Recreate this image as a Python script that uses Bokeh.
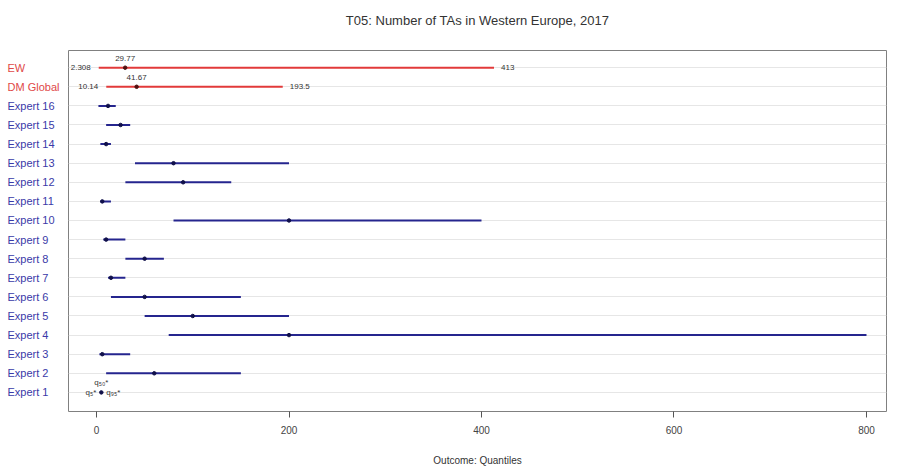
from bokeh.plotting import figure
from bokeh.layouts import row, column
from bokeh.models import ColumnDataSource, Label, FixedTicker, Range1d
from bokeh.core.properties import value
from bokeh.embed import file_html
from bokeh.resources import INLINE

# ---- data ----
experts = ["Expert %d" % i for i in range(1, 17)]
exp_q5 = [4, 10, 3, 75, 50, 15, 12, 30, 7, 80, 4, 30, 40, 4, 10, 2]
exp_q50 = [5, 60, 6, 200, 100, 50, 15, 50, 10, 200, 6, 90, 80, 10, 25, 12]
exp_q95 = [6, 150, 35, 800, 200, 150, 30, 70, 30, 400, 15, 140, 200, 15, 35, 20]

dm_names = ["DM Global", "EW"]
dm_q5 = [10.14, 2.308]
dm_q50 = [41.67, 29.77]
dm_q95 = [193.5, 413]
dm_q5_lbl = ["10.14", "2.308"]
dm_q50_lbl = ["41.67", "29.77"]
dm_q95_lbl = ["193.5", "413"]

x_ticks = [0, 200, 400, 600, 800]
title_text = "T05: Number of TAs in Western Europe, 2017"
x_label = "Outcome: Quantiles"

FONT = "Liberation Sans"
BLUE_TXT = "#3a3aa8"
RED_TXT = "#e04848"
BLUE_LN = "#25258e"
RED_LN = "#e23a3a"

exp_y = list(range(1, len(experts) + 1))
dm_y = [len(experts) + 1 + i for i in range(len(dm_names))]

y_range = Range1d(0, 18.9)

# ---- title panel ----
top = figure(width=897, height=48, output_backend="svg", toolbar_location=None,
             x_range=Range1d(0, 897), y_range=Range1d(0, 48),
             min_border_left=0, min_border_right=0, min_border_top=0, min_border_bottom=0)
top.axis.visible = False
top.grid.visible = False
top.outline_line_color = None
top.text(x=[477], y=[28], text=[title_text], text_font=value(FONT), text_font_size="13px",
         text_color="#333333", text_align="center", text_baseline="middle")

# ---- left label panel ----
lab = figure(width=68, height=424, output_backend="svg", toolbar_location=None,
             x_range=Range1d(0, 68), y_range=y_range,
             min_border_left=0, min_border_right=0, min_border_top=2,
             min_border_bottom=61)
lab.axis.visible = False
lab.grid.visible = False
lab.outline_line_color = None
lab_src = ColumnDataSource(dict(
    x=[7] * (len(experts) + len(dm_names)),
    y=exp_y + dm_y,
    t=experts + dm_names,
    c=[BLUE_TXT] * len(experts) + [RED_TXT] * len(dm_names)))
lab.text(x="x", y="y", text="t", source=lab_src, text_color="c",
         text_font=value(FONT), text_font_size="11px",
         text_align="left", text_baseline="middle")

# ---- main panel ----
p = figure(width=829, height=424, output_backend="svg", toolbar_location=None,
           x_range=Range1d(-29.1, 820.8), y_range=y_range,
           min_border_left=0, min_border_right=11, min_border_top=2,
           min_border_bottom=61)

p.outline_line_color = "#808080"
p.outline_line_width = 1
p.yaxis.visible = False
p.xgrid.visible = False
p.ygrid.ticker = FixedTicker(ticks=exp_y + dm_y)
p.ygrid.grid_line_color = "#e6e6e6"
p.ygrid.grid_line_width = 1

xa = p.xaxis[0]
xa.ticker = FixedTicker(ticks=x_ticks)
xa.axis_line_color = None
xa.major_tick_in = 0
xa.major_tick_out = 6
xa.major_tick_line_color = "#555555"
xa.minor_tick_line_color = None
xa.major_label_text_font = FONT
xa.major_label_text_font_size = "10px"
xa.major_label_text_color = "#444444"
xa.major_label_standoff = 8
xa.axis_label = x_label
xa.axis_label_text_font = FONT
xa.axis_label_text_font_size = "10px"
xa.axis_label_text_font_style = "normal"
xa.axis_label_text_color = "#333333"
xa.axis_label_standoff = 18

es = ColumnDataSource(dict(y=exp_y, q5=exp_q5, q50=exp_q50, q95=exp_q95))
p.segment(x0="q5", y0="y", x1="q95", y1="y", source=es, line_color=BLUE_LN, line_width=2)
p.scatter(x="q50", y="y", source=es, size=3.5, color="#10104a")

ds = ColumnDataSource(dict(y=dm_y, q5=dm_q5, q50=dm_q50, q95=dm_q95))
p.segment(x0="q5", y0="y", x1="q95", y1="y", source=ds, line_color=RED_LN, line_width=2)
p.scatter(x="q50", y="y", source=ds, size=3.5, color="#501010")

# value annotations for DM / EW
for i in range(len(dm_names)):
    yy = dm_y[i]
    p.add_layout(Label(x=dm_q5[i], y=yy, x_offset=-8, text=dm_q5_lbl[i], text_align="right",
                       text_baseline="middle", text_font=FONT, text_font_size="8px",
                       text_color="#333333"))
    p.add_layout(Label(x=dm_q50[i], y=yy, y_offset=9, text=dm_q50_lbl[i], text_align="center",
                       text_baseline="middle", text_font=FONT, text_font_size="8px",
                       text_color="#333333"))
    p.add_layout(Label(x=dm_q95[i], y=yy, x_offset=7, text=dm_q95_lbl[i], text_align="left",
                       text_baseline="middle", text_font=FONT, text_font_size="8px",
                       text_color="#333333"))

# quantile legend around Expert 1
p.add_layout(Label(x=exp_q50[0], y=exp_y[0], x_offset=-5, text="q\u2085*", text_align="right",
                   text_baseline="middle", text_font=FONT, text_font_size="8px", text_color="#333333"))
p.add_layout(Label(x=exp_q50[0], y=exp_y[0], x_offset=5, text="q\u2089\u2085*", text_align="left",
                   text_baseline="middle", text_font=FONT, text_font_size="8px", text_color="#333333"))
p.add_layout(Label(x=exp_q50[0], y=exp_y[0], y_offset=10, text="q\u2085\u2080*", text_align="center",
                   text_baseline="middle", text_font=FONT, text_font_size="8px", text_color="#333333"))

layout = column(top, row(lab, p, spacing=0), spacing=0)
open("out.html", "w").write(file_html(layout, INLINE))
